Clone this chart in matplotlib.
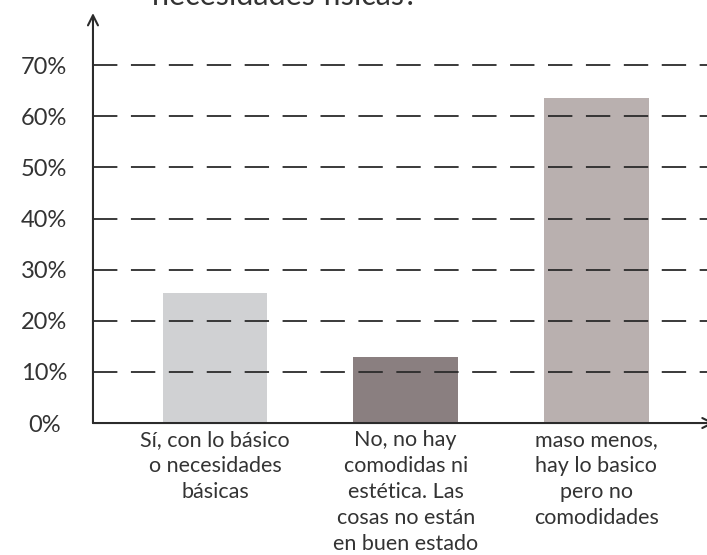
import matplotlib
matplotlib.use('Agg')
import matplotlib.pyplot as plt
import numpy as np

categories = ['Sí, con lo básico\no necesidades\nbásicas',
              'No, no hay\ncomodidas ni\nestética. Las\ncosas no están\nen buen estado',
              'maso menos,\nhay lo basico\npero no\ncomodidades']
values = [25.4, 12.9, 63.6]
colors = ['#d0d1d3', '#8a7f80', '#b9b0af']
yticks = [0, 10, 20, 30, 40, 50, 60, 70]
title = 'necesidades físicas?'

plt.rcParams['font.family'] = ['Lato', 'DejaVu Sans']

fig = plt.figure(figsize=(7.07, 5.55), dpi=100)
ax = fig.add_axes([0.1315, 0.2378, 0.8685, 0.7387])

x = np.arange(len(categories))
ax.set_xlim(-0.64, 2.58)
ax.set_ylim(0, 80.2)

ax.bar(x, values, width=0.55, color=colors, zorder=1)

# dashed guide lines drawn over the bars
for yv in yticks[1:]:
    ax.plot([-0.64, 2.58], [yv, yv], color='#2b2b2b', lw=1.3,
            dashes=(13.5, 7.5), zorder=2)

for s in ax.spines.values():
    s.set_visible(False)

# axes with arrows
ax.annotate('', xy=(-0.64, 80.2), xytext=(-0.64, 0),
            arrowprops=dict(arrowstyle='->', color='#2b2b2b', lw=1.5,
                            shrinkA=0, shrinkB=0, mutation_scale=18),
            annotation_clip=False)
ax.annotate('', xy=(2.62, 0), xytext=(-0.64, 0),
            arrowprops=dict(arrowstyle='->', color='#2b2b2b', lw=1.5,
                            shrinkA=0, shrinkB=0, mutation_scale=18),
            annotation_clip=False)

ax.set_yticks(yticks)
ax.set_yticklabels([f'{v}%' for v in yticks], fontsize=17, color='#333333')
ax.set_xticks(x)
ax.set_xticklabels(categories, fontsize=15.5, color='#333333', linespacing=1.38)
ax.tick_params(axis='both', length=0)
ax.tick_params(axis='y', pad=35)
ax.tick_params(axis='x', pad=5)
for lbl in ax.get_yticklabels():
    lbl.set_horizontalalignment('center')

fig.text(285 / 707, 1 - 5 / 555, title, ha='center', va='baseline',
         fontsize=22, color='#333333')

fig.savefig('out.png', dpi=100)
